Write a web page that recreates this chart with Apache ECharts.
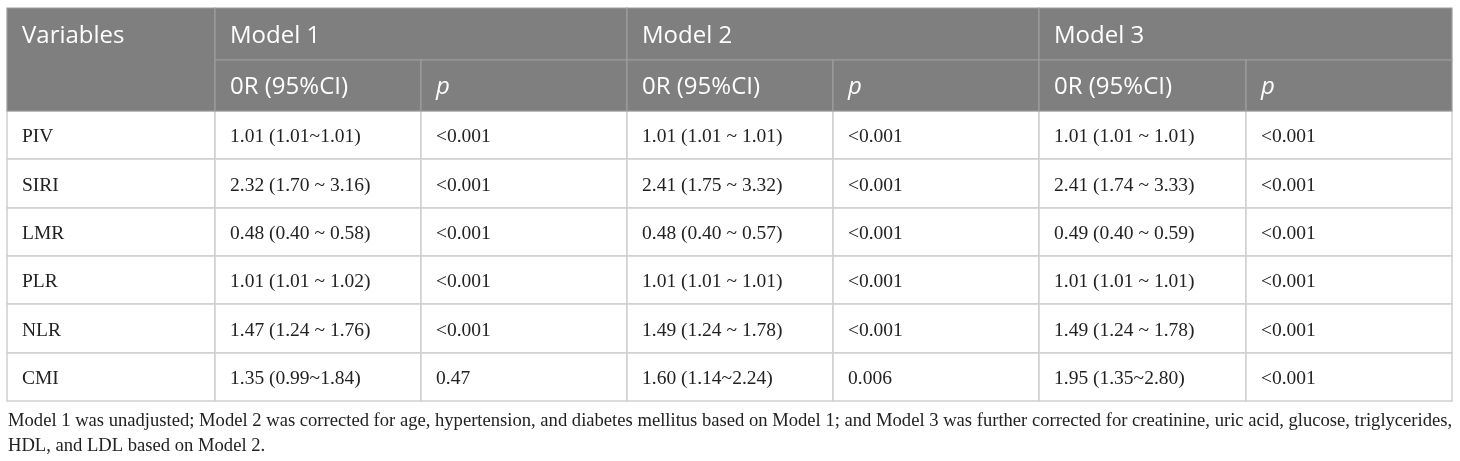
<!DOCTYPE html>
<html><head><meta charset="utf-8">
<script src="https://cdn.jsdelivr.net/npm/echarts@6/dist/echarts.min.js"></script>
<style>html,body{margin:0;padding:0;background:#fff}#c{width:1460px;height:461px}</style>
</head><body><div id="c"></div>
<script>
// ---- data ----
const firstHeader = 'Variables';
const models = ['Model 1', 'Model 2', 'Model 3'];
const subHeaders = ['0R (95%CI)', 'p'];
const variables = ['PIV', 'SIRI', 'LMR', 'PLR', 'NLR', 'CMI'];
const model1OR = ['1.01 (1.01~1.01)', '2.32 (1.70 ~ 3.16)', '0.48 (0.40 ~ 0.58)', '1.01 (1.01 ~ 1.02)', '1.47 (1.24 ~ 1.76)', '1.35 (0.99~1.84)'];
const model1P = ['<0.001', '<0.001', '<0.001', '<0.001', '<0.001', '0.47'];
const model2OR = ['1.01 (1.01 ~ 1.01)', '2.41 (1.75 ~ 3.32)', '0.48 (0.40 ~ 0.57)', '1.01 (1.01 ~ 1.01)', '1.49 (1.24 ~ 1.78)', '1.60 (1.14~2.24)'];
const model2P = ['<0.001', '<0.001', '<0.001', '<0.001', '<0.001', '0.006'];
const model3OR = ['1.01 (1.01 ~ 1.01)', '2.41 (1.74 ~ 3.33)', '0.49 (0.40 ~ 0.59)', '1.01 (1.01 ~ 1.01)', '1.49 (1.24 ~ 1.78)', '1.95 (1.35~2.80)'];
const model3P = ['<0.001', '<0.001', '<0.001', '<0.001', '<0.001', '<0.001'];
const footnoteLines = [
  'Model 1 was unadjusted; Model 2 was corrected for age, hypertension, and diabetes mellitus based on Model 1; and Model 3 was further corrected for creatinine, uric acid, glucose, triglycerides,',
  'HDL, and LDL based on Model 2.'
];

// ---- layout (axis units) ----
const layout = {
  colEdges: [0, 208, 414, 620, 826, 1032, 1239, 1445],
  rowEdges: [0, 52, 103, 151, 200, 248, 296, 345, 393],
  padX: 15,
  textShift: 2
};
const styles = {
  headerBg: '#7f7f7f', headerLine: '#9d9d9d', headerText: '#ffffff',
  bodyBg: '#ffffff', bodyLine: '#d0d0d0', bodyText: '#222222',
  headerFont: '"Open Sans", "Noto Sans", sans-serif', headerSize: 24,
  bodyFont: '"Liberation Serif", "DejaVu Serif", serif', bodySize: 19.5
};

// ---- build cells ----
const cells = [];
const orCols = [model1OR, model2OR, model3OR];
const pCols = [model1P, model2P, model3P];
variables.forEach((v, i) => {
  const r = 2 + i;
  cells.push({ c: [0, 1], r: [r, r + 1], t: [r, r + 1], text: v, header: false });
  for (let m = 0; m < 3; m++) {
    cells.push({ c: [1 + 2 * m, 2 + 2 * m], r: [r, r + 1], t: [r, r + 1], text: orCols[m][i], header: false });
    cells.push({ c: [2 + 2 * m, 3 + 2 * m], r: [r, r + 1], t: [r, r + 1], text: pCols[m][i], header: false });
  }
});
cells.push({ c: [0, 1], r: [0, 2], t: [0, 1], text: firstHeader, header: true });
models.forEach((m, k) => {
  cells.push({ c: [1 + 2 * k, 3 + 2 * k], r: [0, 1], t: [0, 1], text: m, header: true });
  subHeaders.forEach((s, j) => {
    cells.push({ c: [1 + 2 * k + j, 2 + 2 * k + j], r: [1, 2], t: [1, 2], text: s, header: true, italic: j === 1 });
  });
});

const ce = layout.colEdges, re = layout.rowEdges;
const seriesData = cells.map((cl, i) => [ce[cl.c[0]], ce[cl.c[1]], re[cl.r[0]], re[cl.r[1]], (re[cl.t[0]] + re[cl.t[1]]) / 2, i]);

const chart = echarts.init(document.getElementById('c'), null, { renderer: 'canvas' });
chart.setOption({
  animation: false,
  grid: { left: 7, right: 8, top: 8, bottom: 60 },
  xAxis: { type: 'value', min: 0, max: ce[ce.length - 1], show: false },
  yAxis: { type: 'value', min: 0, max: re[re.length - 1], inverse: true, show: false },
  series: [{
    type: 'custom',
    coordinateSystem: 'cartesian2d',
    data: seriesData,
    renderItem: function (params, api) {
      const cl = cells[api.value(5)];
      const p0 = api.coord([api.value(0), api.value(2)]);
      const p1 = api.coord([api.value(1), api.value(3)]);
      const ty = api.coord([0, api.value(4)])[1] + layout.textShift;
      const h = cl.header;
      return {
        type: 'group',
        children: [
          { type: 'rect', shape: { x: p0[0], y: p0[1], width: p1[0] - p0[0], height: p1[1] - p0[1] },
            style: { fill: h ? styles.headerBg : styles.bodyBg, stroke: h ? styles.headerLine : styles.bodyLine, lineWidth: h ? 1.2 : 1.5 } },
          { type: 'text', x: p0[0] + layout.padX, y: ty,
            style: { text: cl.text, fill: h ? styles.headerText : styles.bodyText,
              font: (cl.italic ? 'italic ' : '') + (h ? styles.headerSize + 'px ' + styles.headerFont : styles.bodySize + 'px ' + styles.bodyFont),
              verticalAlign: 'middle', align: 'left' } }
        ]
      };
    }
  }],
  graphic: footnoteLines.map((line, i) => ({
    type: 'text', left: 8, top: 412 + i * 25,
    style: { text: line, fill: '#222', font: '18.6px "Liberation Serif", "DejaVu Serif", serif' }
  }))
});
</script></body></html>
